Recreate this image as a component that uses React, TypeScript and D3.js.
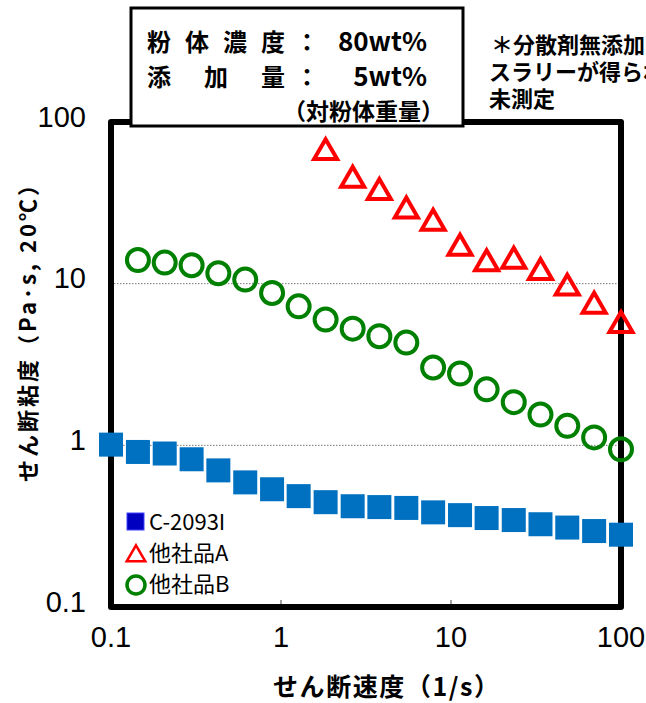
import React, { useEffect, useRef } from 'react';
import * as d3 from 'd3';

// shear rate (1/s)
const shearRates = [
  0.1, 0.144, 0.207, 0.298, 0.428, 0.616, 0.886, 1.27, 1.83, 2.64,
  3.79, 5.46, 7.85, 11.3, 16.2, 23.4, 33.6, 48.3, 69.5, 100,
];

// viscosity (Pa·s)
const c2093 = [
  1.01, 0.91, 0.89, 0.82, 0.7, 0.59, 0.535, 0.485, 0.445, 0.42,
  0.415, 0.41, 0.385, 0.37, 0.355, 0.345, 0.325, 0.31, 0.295, 0.28,
];
const productA = [
  null, null, null, null, null, null, null, null, 66.7, 45.0,
  37.8, 29.0, 24.4, 17.1, 13.7, 14.2, 12.1, 9.68, 7.47, 5.68,
];
const productB = [
  null, 14.0, 13.5, 13.0, 11.6, 10.6, 8.76, 7.24, 6.0, 5.27,
  4.73, 4.32, 3.03, 2.78, 2.22, 1.85, 1.55, 1.32, 1.12, 0.945,
];

const yTicks = [0.1, 1, 10, 100];
const xTicks = [0.1, 1, 10, 100];
const gridValues = [1, 10];
const legendLabels = ['C-2093I', '他社品A', '他社品B'];

const JP = '"Noto Sans CJK JP", "Noto Sans", sans-serif';
const NUM = '"Liberation Sans", Arial, sans-serif';

function App() {
  const ref = useRef<SVGSVGElement>(null);

  useEffect(() => {
    const svg = d3.select(ref.current);
    svg.selectAll('*').remove();
    const width = 646;
    const height = 703;
    const margin = { top: 122, right: 25, bottom: 96, left: 111 };

    const x = d3
      .scaleLog()
      .domain([0.1, 100])
      .range([margin.left, width - margin.right]);
    const y = d3
      .scaleLog()
      .domain([0.1, 100])
      .range([height - margin.bottom, margin.top]);

    svg.append('rect').attr('width', width).attr('height', height).attr('fill', '#fff');

    // grid
    svg
      .selectAll('.grid')
      .data(gridValues)
      .join('line')
      .attr('x1', x(0.1))
      .attr('x2', x(100))
      .attr('y1', d => y(d))
      .attr('y2', d => y(d))
      .attr('stroke', '#777')
      .attr('stroke-width', 1)
      .attr('stroke-dasharray', '1.5,1.5');

    // small inner ticks on bottom
    svg
      .selectAll('.xt')
      .data([1, 10])
      .join('line')
      .attr('x1', d => x(d))
      .attr('x2', d => x(d))
      .attr('y1', y(0.1))
      .attr('y2', y(0.1) - 7)
      .attr('stroke', '#444')
      .attr('stroke-width', 1);

    // frame
    svg
      .append('rect')
      .attr('x', x(0.1))
      .attr('y', y(100))
      .attr('width', x(100) - x(0.1))
      .attr('height', y(0.1) - y(100))
      .attr('fill', 'none')
      .attr('stroke', '#000')
      .attr('stroke-width', 6)
      .attr('stroke-linejoin', 'round');

    // tick labels
    svg
      .selectAll('.yl')
      .data(yTicks)
      .join('text')
      .attr('x', 86)
      .attr('y', d => y(d) - 3)
      .attr('text-anchor', 'end')
      .attr('dominant-baseline', 'middle')
      .attr('font-family', NUM)
      .attr('font-size', 29)
      .text(d => String(d));

    svg
      .selectAll('.xl')
      .data(xTicks)
      .join('text')
      .attr('x', d => x(d))
      .attr('y', 647)
      .attr('text-anchor', 'middle')
      .attr('font-family', NUM)
      .attr('font-size', 29)
      .text(d => String(d));

    // axis titles
    svg
      .append('text')
      .attr('x', 386)
      .attr('y', 696)
      .attr('text-anchor', 'middle')
      .attr('font-family', JP)
      .attr('font-weight', 'bold')
      .attr('font-size', 25)
      .attr('textLength', 226)
      .text('せん断速度（1/s）');

    svg
      .append('text')
      .attr('transform', `translate(36,328) rotate(-90)`)
      .attr('text-anchor', 'middle')
      .attr('font-family', JP)
      .attr('font-weight', 'bold')
      .attr('font-size', 22)
      .attr('textLength', 308)
      .text('せん断粘度（Pa･s, 20℃）');

    // series: C-2093I squares
    const sq = 24;
    svg
      .selectAll('.sq')
      .data(shearRates.map((r, i) => ({ r, v: c2093[i] })))
      .join('rect')
      .attr('x', d => x(d.r) - sq / 2)
      .attr('y', d => y(d.v) - sq / 2)
      .attr('width', sq)
      .attr('height', sq)
      .attr('fill', '#0070C0');

    // 他社品B circles
    svg
      .selectAll('.ci')
      .data(shearRates.map((r, i) => ({ r, v: productB[i] })).filter(d => d.v != null))
      .join('circle')
      .attr('cx', d => x(d.r))
      .attr('cy', d => y(d.v as number))
      .attr('r', 11)
      .attr('fill', 'none')
      .attr('stroke', '#008000')
      .attr('stroke-width', 4);

    // 他社品A triangles
    const tri = d3.symbol().type(d3.symbolTriangle).size(230);
    svg
      .selectAll('.tr')
      .data(shearRates.map((r, i) => ({ r, v: productA[i] })).filter(d => d.v != null))
      .join('path')
      .attr('transform', d => `translate(${x(d.r)},${y(d.v as number) + 2})`)
      .attr('d', tri)
      .attr('fill', 'none')
      .attr('stroke', '#FF0000')
      .attr('stroke-width', 4);

    // legend
    const lg = svg.append('g');
    lg.append('rect')
      .attr('x', 127)
      .attr('y', 513)
      .attr('width', 17)
      .attr('height', 17)
      .attr('fill', '#0000C0')
      .attr('stroke', '#4040ff')
      .attr('stroke-width', 1);
    lg.append('path')
      .attr('transform', 'translate(136,556)')
      .attr('d', d3.symbol().type(d3.symbolTriangle).size(150))
      .attr('fill', 'none')
      .attr('stroke', '#FF0000')
      .attr('stroke-width', 2.5);
    lg.append('circle')
      .attr('cx', 136)
      .attr('cy', 585)
      .attr('r', 9)
      .attr('fill', 'none')
      .attr('stroke', '#008000')
      .attr('stroke-width', 3.5);
    lg.selectAll('text')
      .data(legendLabels)
      .join('text')
      .attr('x', 149)
      .attr('y', (d, i) => 530 + i * 31)
      .attr('font-family', JP)
      .attr('font-size', 22)
      .text(d => d);

    // condition box
    const box = svg.append('g');
    box
      .append('rect')
      .attr('x', 131)
      .attr('y', 8)
      .attr('width', 332)
      .attr('height', 118)
      .attr('fill', '#fff')
      .attr('stroke', '#000')
      .attr('stroke-width', 3);
    const boxText = (tx: number, ty: number, s: string, size: number, anchor = 'start') =>
      box
        .append('text')
        .attr('x', tx)
        .attr('y', ty)
        .attr('text-anchor', anchor)
        .attr('font-family', JP)
        .attr('font-weight', 'bold')
        .attr('font-size', size)
        .text(s);
    ['粉', '体', '濃', '度'].forEach((c, i) => boxText(147 + i * 38, 51, c, 24));
    boxText(295, 51, '：', 24);
    boxText(427, 51, '80wt%', 26, 'end');
    ['添', '加', '量'].forEach((c, i) => boxText(147 + i * 57, 86, c, 24));
    boxText(295, 86, '：', 24);
    boxText(427, 86, '5wt%', 26, 'end');
    boxText(444, 120, '（対粉体重量）', 23, 'end');

    // side note
    const notes = ['＊分散剤無添加', 'スラリーが得られ', '未測定'];
    svg
      .selectAll('.note')
      .data(notes)
      .join('text')
      .attr('x', (d, i) => (i === 0 ? 491 : 489))
      .attr('y', (d, i) => 53 + i * 27)
      .attr('font-family', JP)
      .attr('font-weight', 'bold')
      .attr('font-size', 22)
      .text(d => d);
  }, []);

  return (
    <div style={{ position: 'absolute', left: 0, top: 0 }}>
      <svg ref={ref} width={646} height={703} style={{ display: 'block' }} />
    </div>
  );
}

export default App;
